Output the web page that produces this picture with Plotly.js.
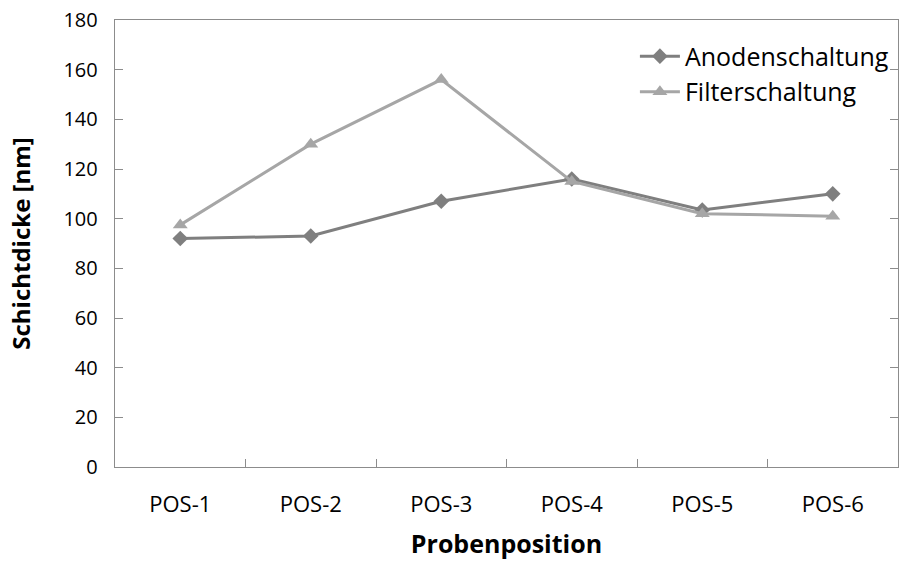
<!DOCTYPE html>
<html>
<head>
<meta charset="utf-8">
<script src="https://cdn.plot.ly/plotly-3.0.1.min.js"></script>
<style>html,body{margin:0;padding:0;background:#fff;}#chart{width:899px;height:562px;}</style>
</head>
<body>
<div id="chart"></div>
<script>
const categories = ["POS-1", "POS-2", "POS-3", "POS-4", "POS-5", "POS-6"];
const anodenschaltung = [92, 93, 107, 116, 103.5, 110];
const filterschaltung = [97.5, 130, 156, 115, 102, 101];
const seriesNames = ["Anodenschaltung", "Filterschaltung"];
const yTicks = [0, 20, 40, 60, 80, 100, 120, 140, 160, 180];

const font = "Open Sans, Noto Sans, Liberation Sans, sans-serif";
const traces = [
  {x: categories, y: anodenschaltung, name: seriesNames[0], type: "scatter", mode: "lines+markers",
   line: {color: "#7f7f7f", width: 3}, marker: {symbol: "diamond", size: 12, color: "#7f7f7f"}},
  {x: categories, y: filterschaltung, name: seriesNames[1], type: "scatter", mode: "lines+markers",
   line: {color: "#a6a6a6", width: 3}, marker: {symbol: "triangle-up", size: 13, color: "#a6a6a6"}}
];
const layout = {
  width: 899, height: 562,
  margin: {l: 115, r: 1, t: 20, b: 95, autoexpand: false},
  paper_bgcolor: "#fff", plot_bgcolor: "#fff",
  font: {family: font, color: "#000", size: 18},
  showlegend: true,
  legend: {x: 0.664, y: 0.97, xanchor: "left", yanchor: "top", font: {size: 25, color: "#000"},
           bgcolor: "rgba(0,0,0,0)", itemwidth: 40, tracegroupgap: 0},
  xaxis: {type: "category", range: [-0.5, 5.5], automargin: false, showgrid: false, showline: true,
          linecolor: "#8c8c8c", linewidth: 1.3,
          mirror: true, ticks: "inside", ticklen: 8, tickcolor: "#8c8c8c", tickson: "boundaries",
          tickfont: {size: 22, family: font}, zeroline: false, ticklabelstandoff: 17,
          title: {text: "<b>Probenposition</b>", font: {size: 25, family: font}, standoff: 18}},
  yaxis: {range: [0, 180], automargin: false, tickvals: yTicks, showgrid: false, showline: true, linecolor: "#8c8c8c",
          linewidth: 1.3, mirror: "ticks", ticks: "inside", ticklen: 8, tickcolor: "#8c8c8c",
          tickfont: {size: 20, family: font}, zeroline: false, ticklabelstandoff: 12,
          title: {text: "<b>Schichtdicke [nm]</b>", font: {size: 24, family: font}, standoff: 26}}
};
Plotly.newPlot("chart", traces, layout, {displayModeBar: false, staticPlot: true});
</script>
</body>
</html>
